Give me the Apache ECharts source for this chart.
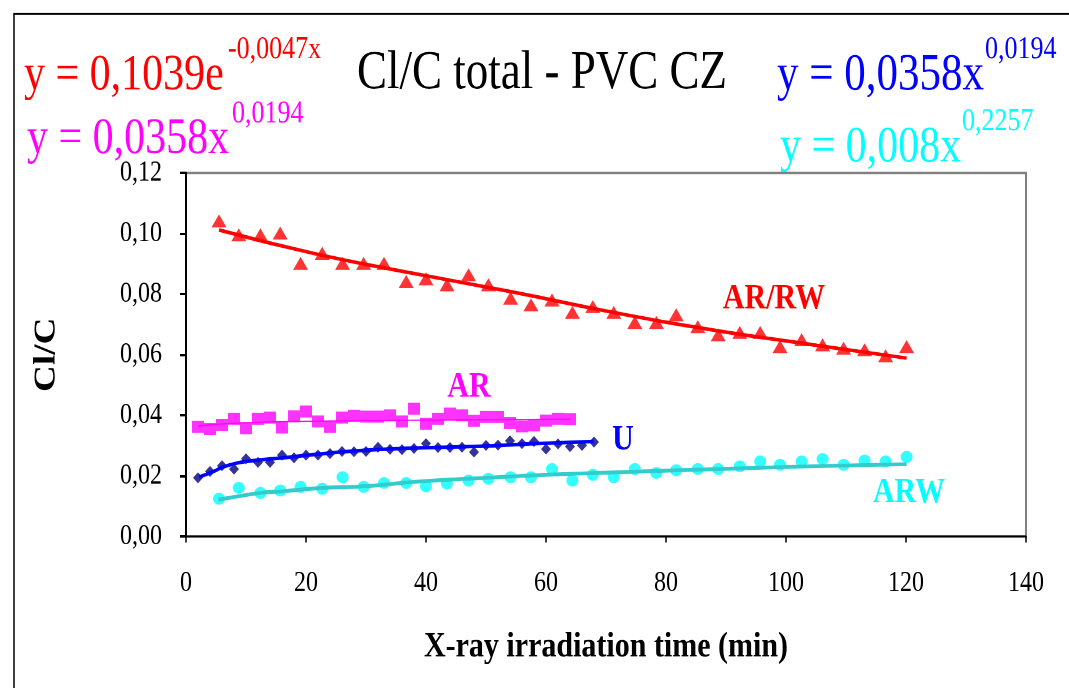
<!DOCTYPE html>
<html>
<head>
<meta charset="utf-8">
<script src="https://cdn.jsdelivr.net/npm/echarts@6/dist/echarts.min.js"></script>
<style>
html{margin:0;padding:0;background:#fff;overflow:hidden;width:1069px;height:688px;}
body{margin:0;padding:0;background:#fff;width:1069px;height:688px;}
#c{width:1069px;transform-origin:0 0;}
</style>
</head>
<body>
<div id="c"></div>
<script>
// ---- data ----
const timeLong = [5.5, 8.8, 12.4, 15.7, 19.1, 22.7, 26.1, 29.6, 33.0, 36.7, 40.0, 43.5, 47.1, 50.4, 54.1, 57.5, 61.0, 64.4, 67.8, 71.3, 74.8, 78.4, 81.7, 85.3, 88.7, 92.3, 95.7, 99.0, 102.6, 106.1, 109.6, 113.1, 116.6, 120.1];
const arrwValues = [0.1042, 0.0996, 0.0996, 0.1002, 0.0902, 0.0935, 0.0902, 0.0902, 0.0902, 0.0842, 0.0851, 0.0831, 0.0864, 0.0831, 0.0787, 0.0765, 0.0781, 0.0740, 0.0759, 0.0740, 0.0707, 0.0707, 0.0732, 0.0693, 0.0666, 0.0674, 0.0674, 0.0627, 0.0650, 0.0633, 0.0622, 0.0617, 0.0597, 0.0627];
const arwValues = [0.0125, 0.0161, 0.0144, 0.0152, 0.0164, 0.0158, 0.0196, 0.0164, 0.0177, 0.0177, 0.0166, 0.0175, 0.0185, 0.0191, 0.0196, 0.0196, 0.0223, 0.0185, 0.0204, 0.0196, 0.0223, 0.0210, 0.0219, 0.0223, 0.0223, 0.0232, 0.0248, 0.0237, 0.0248, 0.0256, 0.0237, 0.0251, 0.0248, 0.0263];
const timeShort = [2, 4, 6, 8, 10, 12, 14, 16, 18, 20, 22, 24, 26, 28, 30, 32, 34, 36, 38, 40, 42, 44, 46, 48, 50, 52, 54, 56, 58, 60, 62, 64, 66, 68];
const arValues = [0.0362, 0.0355, 0.0369, 0.0389, 0.0358, 0.0389, 0.0393, 0.0360, 0.0397, 0.0413, 0.0380, 0.0362, 0.0393, 0.0399, 0.0396, 0.0396, 0.0400, 0.0380, 0.0422, 0.0372, 0.0389, 0.0406, 0.0400, 0.0382, 0.0395, 0.0395, 0.0375, 0.0364, 0.0367, 0.0383, 0.0389, 0.0388];
const uValues = [0.0194, 0.0215, 0.0234, 0.0223, 0.0257, 0.0245, 0.0245, 0.0269, 0.0260, 0.0269, 0.0269, 0.0274, 0.0281, 0.0280, 0.0281, 0.0295, 0.0288, 0.0287, 0.0291, 0.0307, 0.0294, 0.0294, 0.0295, 0.0279, 0.0301, 0.0302, 0.0316, 0.0307, 0.0314, 0.0289, 0.0306, 0.0297, 0.0301, 0.0312];
// trend lines
const arrwTrend = [[5.5, 0.1012], [21.2, 0.0935], [35.7, 0.0877], [54.5, 0.0807], [71.2, 0.0740], [87.8, 0.0682], [104.5, 0.0633], [120.1, 0.0589]];
const arTrend = [[2, 0.0365], [10, 0.0376], [30, 0.0383], [64, 0.0388]];
const uTrend = [[2.2, 0.0197], [4.6, 0.0215], [6.2, 0.0230], [10.1, 0.0248], [15.7, 0.0259], [24, 0.0276], [33.4, 0.0289], [49, 0.0298], [57.3, 0.0306], [67.9, 0.0314]];
const arwTrend = [[5.4, 0.0122], [8.7, 0.0133], [12.3, 0.0144], [15.7, 0.0149], [22.9, 0.0161], [29.6, 0.0166], [39, 0.0182], [50, 0.0194], [60, 0.0204], [70, 0.0211], [82, 0.0219], [92, 0.0225], [104, 0.0232], [120.1, 0.0239]];
const xTicks = {min: 0, max: 140, step: 20};
const yTicks = {min: 0, max: 0.12, step: 0.02};
const titleText = 'Cl/C total - PVC CZ';
const xName = 'X-ray irradiation time (min)';
const yName = 'Cl/C';

// ---- layout: text in the reference is vertically stretched ----
const K = 1.2;
const W = 1069, H = 688;
const dom = document.getElementById('c');
dom.style.height = (H / K) + 'px';
dom.style.transform = 'scaleY(' + K + ')';
const fy = v => v / K;
const FF = 'Liberation Serif';

const zip = (xs, ys) => ys.map((y, i) => [xs[i], y]);

function txt(text, x, yFinal, size, color, opts) {
  opts = opts || {};
  return {
    type: 'text', x: x, y: fy(yFinal), z: 100,
    style: {
      text: text, fill: color, fontFamily: FF, fontSize: size,
      fontWeight: opts.bold ? 'bold' : 'normal',
      align: opts.align || 'left', verticalAlign: 'middle'
    }
  };
}

const chart = echarts.init(dom, null, {devicePixelRatio: 2});
const option = {
  animation: false,
  backgroundColor: '#fff',
  grid: {left: 186, right: W - 1026, top: fy(173), bottom: H / K - fy(537), show: true, borderColor: '#808080', borderWidth: 2},
  xAxis: {
    type: 'value', min: xTicks.min, max: xTicks.max, interval: xTicks.step,
    axisLine: {show: true, lineStyle: {color: '#000', width: 1.5}},
    axisTick: {show: true, inside: false, length: 5, lineStyle: {color: '#000', width: 1.5}},
    splitLine: {show: false},
    axisLabel: {fontFamily: FF, fontSize: 24, color: '#000', margin: 27},
    name: xName, nameLocation: 'middle', nameGap: 77,
    nameTextStyle: {fontFamily: FF, fontWeight: 'bold', fontSize: 30, color: '#000'}
  },
  yAxis: {
    type: 'value', min: yTicks.min, max: yTicks.max, interval: yTicks.step,
    axisLine: {show: true, lineStyle: {color: '#000', width: 2}},
    axisTick: {show: true, inside: false, length: 6, lineStyle: {color: '#000', width: 2}},
    splitLine: {show: false},
    axisLabel: {fontFamily: FF, fontSize: 24, color: '#000', margin: 24,
      formatter: v => v.toFixed(2).replace('.', ',')},
    name: yName, nameLocation: 'middle', nameRotate: 90, nameGap: 124,
    nameTextStyle: {fontFamily: FF, fontWeight: 'bold', fontSize: 31, color: '#000'}
  },
  series: [
    {type: 'scatter', name: 'AR/RW', data: zip(timeLong, arrwValues), symbol: 'triangle', symbolSize: [15, 13 / K], itemStyle: {color: '#FF0000'}, z: 2},
    {type: 'scatter', name: 'AR', data: zip(timeShort, arValues), symbol: 'rect', symbolSize: [12, 12 / K], itemStyle: {color: '#FF00FF'}, z: 2},
    {type: 'scatter', name: 'U', data: zip(timeShort, uValues), symbol: 'diamond', symbolSize: [10, 11 / K], itemStyle: {color: '#000080'}, z: 2},
    {type: 'scatter', name: 'ARW', data: zip(timeLong, arwValues), symbol: 'circle', symbolSize: [12, 12 / K], itemStyle: {color: '#00FFFF'}, z: 2},
    {type: 'line', name: 'AR/RW trend', data: arrwTrend, smooth: true, symbol: 'none', lineStyle: {color: '#FF0000', width: 3}, z: 3},
    {type: 'line', name: 'AR trend', data: arTrend, smooth: true, symbol: 'none', lineStyle: {color: '#FF00FF', width: 1}, z: 3},
    {type: 'line', name: 'U trend', data: uTrend, smooth: true, symbol: 'none', lineStyle: {color: '#0000FF', width: 3}, z: 3},
    {type: 'line', name: 'ARW trend', data: arwTrend, smooth: true, symbol: 'none', lineStyle: {color: '#33CCCC', width: 3.2}, z: 3}
  ],
  graphic: [
    {type: 'rect', shape: {x: 14, y: fy(14), width: 1200, height: 800}, style: {fill: 'none', stroke: '#000', lineWidth: 1.5}, z: 0, silent: true},
    txt(titleText, 542, 74, 45, '#000', {align: 'center'}),
    txt('y = 0,1039e', 24, 76, 42, '#FF0000'),
    txt('-0,0047x', 228, 50, 26, '#FF0000'),
    txt('y = 0,0358x', 777, 76, 43, '#0000FF'),
    txt('0,0194', 985, 50, 26, '#0000FF'),
    txt('y = 0,0358x', 27, 140, 42, '#FF00FF'),
    txt('0,0194', 232, 114, 26, '#FF00FF'),
    txt('y = 0,008x', 780, 148, 42, '#00FFFF'),
    txt('0,2257', 962, 122, 26, '#00FFFF'),
    txt('AR/RW', 774, 299, 30, '#FF0000', {bold: true, align: 'center'}),
    txt('AR', 469, 387, 30, '#FF00FF', {bold: true, align: 'center'}),
    txt('U', 623, 440, 30, '#0000FF', {bold: true, align: 'center'}),
    txt('ARW', 909, 493, 30, '#00FFFF', {bold: true, align: 'center'})
  ]
};
chart.setOption(option);
</script>
</body>
</html>
